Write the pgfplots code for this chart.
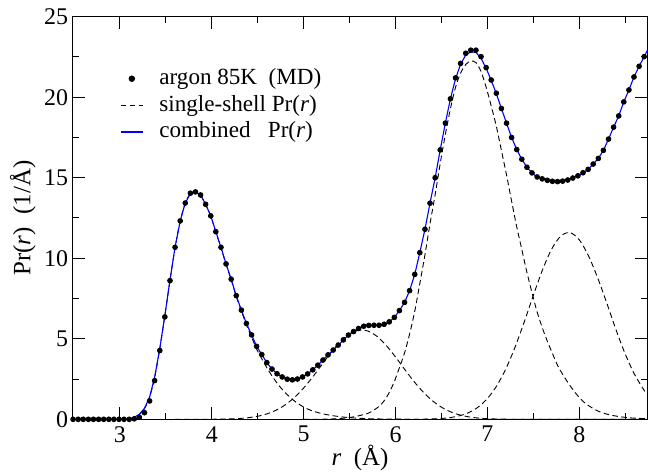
\documentclass[border=0pt]{standalone}
\usepackage{fontspec}
\setmainfont{Liberation Serif}
\newfontfamily\timesfont{Liberation Serif}
\usepackage{pgfplots}
\pgfplotsset{compat=1.18}
\begin{document}
\begin{tikzpicture}
\begin{axis}[
  scale only axis, width=287.3bp, height=201.3bp,
  xmin=2.486, xmax=8.74, ymin=0, ymax=25,
  xtick={3,4,5,6,7,8}, minor xtick={3.5,4.5,5.5,6.5,7.5,8.5},
  xticklabels={3,4,5,6,7,8},
  ytick={0,5,10,15,20,25}, minor ytick={2.5,7.5,12.5,17.5,22.5},
  yticklabels={0,5,10,15,20,25},
  tick pos=both, tick align=inside,
  major tick length=6bp, minor tick length=3bp,
  every tick/.style={black, line width=0.5bp},
  axis line style={line width=0.6bp},
  /pgf/number format/assume math mode=true,
  tick label style={font=\timesfont\fontsize{12}{13}\selectfont},
  yticklabel style={xshift=1.2bp},
  xlabel={\textit{r}\ \ (Å)},
  ylabel={Pr(\textit{r})\ \ (1/Å)},
  every axis x label/.style={at={(axis description cs:0.5,-0.0964)}, anchor=center, font=\timesfont\fontsize{12.5}{14}\selectfont},
  every axis y label/.style={at={(axis description cs:-0.0867,0.5)}, rotate=90, anchor=center, font=\timesfont\fontsize{12.5}{14}\selectfont},
  legend style={draw=none, fill=none, at={(axis description cs:0.082,0.88)}, anchor=north west,
    font=\timesfont\fontsize{11.6}{13}\selectfont, inner sep=0pt, row sep=0pt,
    nodes={inner sep=1.5bp, text height=8bp, text depth=2.3bp},
    /tikz/every odd column/.append style={column sep=6.5bp}},
  legend cell align=left,
]
\addplot[only marks, mark=*, mark size=1.2bp, black,
  legend image code/.code={\fill[black] (5.5bp,0bp) circle (1.4bp);}] coordinates {
(2.490,0) (2.546,0) (2.601,0) (2.657,0) (2.712,0) (2.768,0) (2.823,0) (2.879,0)
(2.934,0) (2.990,0) (3.045,0) (3.101,0.0) (3.156,0.03) (3.212,0.12) (3.267,0.41)
(3.323,1.14) (3.378,2.40) (3.434,4.27) (3.489,6.36) (3.545,8.61) (3.600,10.68)
(3.656,12.32) (3.711,13.43) (3.767,14.04) (3.822,14.12) (3.878,13.93) (3.933,13.35)
(3.989,12.63) (4.044,11.65) (4.100,10.68) (4.155,9.65) (4.211,8.70) (4.266,7.68)
(4.322,6.78) (4.377,5.95) (4.433,5.24) (4.488,4.53) (4.544,4.02) (4.599,3.52)
(4.655,3.12) (4.710,2.83) (4.766,2.63) (4.821,2.49) (4.877,2.45) (4.932,2.50)
(4.988,2.63) (5.043,2.82) (5.099,3.07) (5.154,3.36) (5.210,3.68) (5.265,4.00)
(5.321,4.30) (5.376,4.61) (5.432,4.93) (5.487,5.23) (5.543,5.45) (5.598,5.64)
(5.654,5.78) (5.709,5.83) (5.765,5.84) (5.820,5.84) (5.876,5.90) (5.931,6.05)
(5.987,6.33) (6.042,6.75) (6.098,7.26) (6.153,7.99) (6.209,9.00) (6.264,10.35)
(6.320,11.80) (6.375,13.42) (6.431,15.00) (6.486,16.73) (6.542,18.39) (6.597,19.90)
(6.653,21.20) (6.708,22.10) (6.764,22.73) (6.819,22.92) (6.875,22.92) (6.930,22.52)
(6.986,21.84) (7.041,21.07) (7.097,20.25) (7.152,19.30) (7.208,18.39) (7.263,17.50)
(7.319,16.75) (7.374,16.15) (7.430,15.65) (7.485,15.30) (7.541,15.05) (7.596,14.93)
(7.652,14.84) (7.707,14.78) (7.763,14.76) (7.818,14.79) (7.874,14.86) (7.929,14.98)
(7.985,15.12) (8.040,15.31) (8.096,15.52) (8.151,15.85) (8.207,16.20) (8.262,16.70)
(8.318,17.40) (8.373,18.14) (8.429,18.84) (8.484,19.71) (8.540,20.45) (8.595,21.26)
(8.651,21.92) (8.706,22.52)
};
\addlegendentry{argon 85K\ \ (MD)}
\addplot[black, line width=0.45bp, dash pattern=on 2.8bp off 1.7bp, smooth,
  legend image code/.code={\draw[black, line width=0.45bp, dash pattern=on 2.8bp off 1.7bp] (0bp,0bp) -- (11bp,0bp);}] coordinates {
(3.0,0) (3.101,0.01) (3.156,0.08) (3.212,0.30) (3.267,0.66) (3.323,1.36) (3.378,2.60)
(3.434,4.38) (3.489,6.42) (3.545,8.64) (3.600,10.66) (3.656,12.30) (3.711,13.42)
(3.767,14.02) (3.822,14.10) (3.878,13.91) (3.933,13.33) (3.989,12.61) (4.044,11.62)
(4.100,10.65) (4.155,9.62) (4.211,8.66) (4.266,7.63) (4.322,6.72) (4.377,5.86)
(4.433,5.10) (4.488,4.36) (4.544,3.76) (4.599,3.20) (4.655,2.70) (4.710,2.25)
(4.766,1.86) (4.821,1.53) (4.877,1.24) (4.932,1.00) (4.988,0.80) (5.043,0.64)
(5.1,0.51) (5.2,0.35) (5.3,0.24) (5.4,0.16) (5.5,0.10) (5.6,0.065) (5.7,0.04)
(5.8,0.025) (6.0,0.01) (6.5,0) (8.74,0)
};
\addlegendentry{single-shell Pr(\textit{r})}
\addplot[black, line width=0.45bp, dash pattern=on 2.8bp off 1.7bp, smooth, forget plot] coordinates {
(3.6,0) (3.8,0.0) (3.9,0.002) (4.0,0.005) (4.1,0.011) (4.2,0.025) (4.3,0.052) (4.4,0.102)
(4.5,0.19) (4.6,0.336) (4.7,0.565) (4.8,0.899) (4.9,1.357) (5.0,1.945) (5.1,2.642)
(5.2,3.405) (5.3,4.162) (5.4,4.826) (5.5,5.307) (5.6,5.537) (5.7,5.478) (5.8,5.142)
(5.9,4.578) (6.0,3.866) (6.1,3.096) (6.2,2.352) (6.3,1.695) (6.4,1.159) (6.5,0.751)
(6.6,0.462) (6.7,0.27) (6.8,0.149) (6.9,0.078) (7.0,0.039) (7.1,0.018) (7.2,0.008)
(7.4,0.001) (8.0,0) (8.74,0)
};
\addplot[black, line width=0.45bp, dash pattern=on 2.8bp off 1.7bp, smooth, forget plot] coordinates {
(5.0,0) (5.2,0.005) (5.3,0.02) (5.4,0.05) (5.5,0.11) (5.6,0.22) (5.7,0.37) (5.765,0.58)
(5.82,0.80) (5.876,1.15) (5.931,1.66) (5.987,2.35) (6.042,3.21) (6.098,4.12)
(6.153,5.30) (6.209,6.71) (6.264,8.43) (6.320,10.22) (6.375,12.14) (6.431,13.95)
(6.486,15.88) (6.542,17.69) (6.597,19.28) (6.653,20.62) (6.708,21.50) (6.764,22.03)
(6.819,22.25) (6.875,22.15) (6.930,21.60) (6.986,20.62) (7.041,19.46) (7.097,18.19)
(7.152,16.70) (7.208,15.17) (7.263,13.55) (7.319,11.95) (7.374,10.55) (7.430,9.12)
(7.485,7.87) (7.541,6.66) (7.596,5.70) (7.652,4.85) (7.707,4.10) (7.763,3.35)
(7.818,2.80) (7.874,2.30) (7.929,1.85) (7.985,1.45) (8.04,1.12) (8.1,0.85) (8.2,0.52)
(8.3,0.32) (8.4,0.2) (8.5,0.12) (8.6,0.07) (8.74,0.04)
};
\addplot[black, line width=0.45bp, dash pattern=on 2.8bp off 1.7bp, smooth, forget plot] coordinates {
(6.0,0) (6.3,0.005) (6.4,0.023) (6.5,0.053) (6.6,0.112) (6.7,0.224) (6.8,0.425) (6.9,0.762)
(7.0,1.292) (7.1,2.068) (7.2,3.128) (7.3,4.471) (7.4,6.037) (7.5,7.704) (7.6,9.289)
(7.7,10.58) (7.8,11.39) (7.9,11.59) (8.0,11.14) (8.1,10.15) (8.2,8.78) (8.3,7.2)
(8.4,5.55) (8.5,4.05) (8.6,2.8) (8.7,1.85) (8.74,1.55)
};
\addplot[blue, line width=0.55bp,
  legend image code/.code={\draw[blue, line width=0.6bp] (0bp,0bp) -- (11bp,0bp);}] coordinates {
(2.490,0) (3.045,0) (3.101,0.03) (3.156,0.12) (3.212,0.32) (3.267,0.68) (3.323,1.38)
(3.378,2.62) (3.434,4.40) (3.489,6.45) (3.545,8.65) (3.600,10.68)
(3.656,12.32) (3.711,13.43) (3.767,14.02) (3.822,14.12) (3.878,13.93) (3.933,13.35)
(3.989,12.63) (4.044,11.65) (4.100,10.68) (4.155,9.65) (4.211,8.70) (4.266,7.68)
(4.322,6.78) (4.377,5.95) (4.433,5.24) (4.488,4.53) (4.544,4.02) (4.599,3.52)
(4.655,3.12) (4.710,2.83) (4.766,2.63) (4.821,2.49) (4.877,2.45) (4.932,2.50)
(4.988,2.63) (5.043,2.82) (5.099,3.07) (5.154,3.36) (5.210,3.68) (5.265,4.00)
(5.321,4.30) (5.376,4.61) (5.432,4.93) (5.487,5.23) (5.543,5.45) (5.598,5.64)
(5.654,5.76) (5.709,5.82) (5.765,5.83) (5.820,5.84) (5.876,5.90) (5.931,6.05)
(5.987,6.33) (6.042,6.75) (6.098,7.26) (6.153,7.99) (6.209,9.00) (6.264,10.35)
(6.320,11.80) (6.375,13.42) (6.431,15.00) (6.486,16.73) (6.542,18.39) (6.597,19.90)
(6.653,21.15) (6.708,22.05) (6.764,22.62) (6.819,22.82) (6.875,22.78) (6.930,22.42)
(6.986,21.80) (7.041,21.05) (7.097,20.22) (7.152,19.30) (7.208,18.39) (7.263,17.50)
(7.319,16.75) (7.374,16.15) (7.430,15.65) (7.485,15.30) (7.541,15.05) (7.596,14.93)
(7.652,14.84) (7.707,14.78) (7.763,14.76) (7.818,14.79) (7.874,14.86) (7.929,14.98)
(7.985,15.12) (8.040,15.31) (8.096,15.52) (8.151,15.85) (8.207,16.20) (8.262,16.70)
(8.318,17.40) (8.373,18.14) (8.429,18.84) (8.484,19.71) (8.540,20.45) (8.595,21.26)
(8.651,21.92) (8.706,22.52) (8.74,22.90)
};
\addlegendentry{combined\hspace{0.75em}Pr(\textit{r})}
\end{axis}
\pgfresetboundingbox
\path[use as bounding box] ([xshift=-36.35bp,yshift=-28.35bp]current axis.south west) rectangle ([xshift=0.35bp,yshift=8.35bp]current axis.north east);
\end{tikzpicture}
\end{document}
